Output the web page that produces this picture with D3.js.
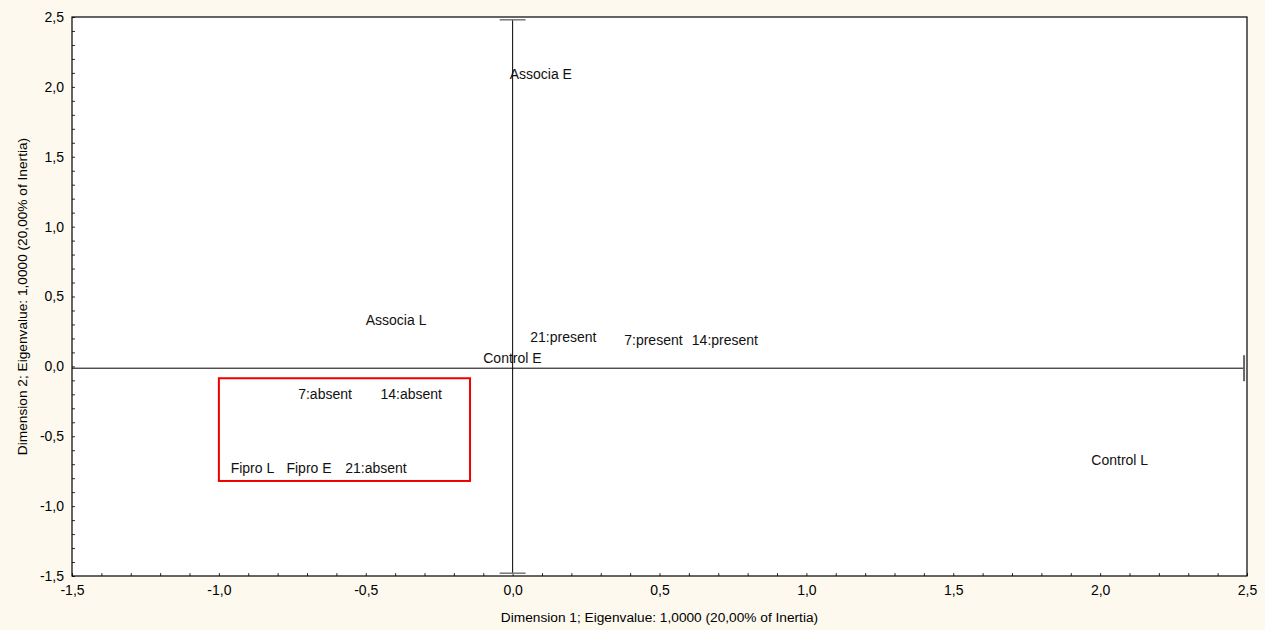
<!DOCTYPE html>
<html>
<head>
<meta charset="utf-8">
<script src="https://cdn.jsdelivr.net/npm/d3@7"></script>
<style>
  body { margin: 0; background: #fdf9ee; }
  svg { display: block; font-family: "Liberation Sans", Arial, sans-serif; }
</style>
</head>
<body>
<svg id="chart" width="1265" height="630"></svg>
<script>
// point labels and their coordinates (Dimension 1, Dimension 2)
const labels = ["Associa E", "Associa L", "Control E", "21:present", "7:present", "14:present",
                "7:absent", "14:absent", "Fipro L", "Fipro E", "21:absent", "Control L"];
const dim1 = [-0.01, -0.50, -0.10, 0.06, 0.38, 0.61, -0.73, -0.45, -0.96, -0.77, -0.57, 1.97];
const dim2 = [2.09, 0.33, 0.06, 0.21, 0.19, 0.19, -0.20, -0.20, -0.73, -0.73, -0.73, -0.67];

const xTicks = [-1.5, -1.0, -0.5, 0.0, 0.5, 1.0, 1.5, 2.0, 2.5];
const yTicks = [-1.5, -1.0, -0.5, 0.0, 0.5, 1.0, 1.5, 2.0, 2.5];

// the cross: horizontal line at crossLevel, vertical at x = 0, with end caps
const crossLevel = -0.013;
const crossX = [-1.5, 2.49];
const crossY = [-1.48, 2.48];
// highlight box
const boxX = [-1.0, -0.145];
const boxY = [-0.085, -0.82];

const svg = d3.select("#chart");
const plot = { left: 72, right: 1247, top: 17, bottom: 576 };

const x = d3.scaleLinear().domain([-1.5, 2.5]).range([plot.left, plot.right]);
const y = d3.scaleLinear().domain([-1.5, 2.5]).range([plot.bottom, plot.top]);
// comma decimals with a plain hyphen minus, as in the original
const fmt = v => (v < 0 ? "-" : "") + Math.abs(v).toFixed(1).replace(".", ",");

svg.append("rect")
  .attr("x", plot.left).attr("y", plot.top)
  .attr("width", plot.right - plot.left).attr("height", plot.bottom - plot.top)
  .attr("fill", "#fff");

// minor ticks every 0.1, pointing inwards
const minorX = d3.range(-15, 26).map(d => d / 10);
const minorY = d3.range(-15, 26).map(d => d / 10);
svg.append("g").attr("transform", `translate(0,${plot.bottom})`)
  .call(d3.axisTop(x).tickValues(minorX).tickSize(3).tickFormat(""))
  .call(g => g.select(".domain").remove())
  .call(g => g.selectAll("line").attr("stroke", "#333"));
svg.append("g").attr("transform", `translate(${plot.left},0)`)
  .call(d3.axisRight(y).tickValues(minorY).tickSize(3).tickFormat(""))
  .call(g => g.select(".domain").remove())
  .call(g => g.selectAll("line").attr("stroke", "#333"));

// tick labels
svg.append("g").attr("transform", `translate(0,${plot.bottom})`)
  .call(d3.axisBottom(x).tickValues(xTicks).tickSize(0).tickPadding(9).tickFormat(fmt))
  .call(g => g.select(".domain").remove())
  .call(g => g.selectAll("text").attr("font-size", 14).attr("fill", "#000")
    .attr("font-family", "Liberation Sans, Arial, sans-serif"));
svg.append("g").attr("transform", `translate(${plot.left},0)`)
  .call(d3.axisLeft(y).tickValues(yTicks).tickSize(0).tickPadding(8).tickFormat(fmt))
  .call(g => g.select(".domain").remove())
  .call(g => g.selectAll("text").attr("font-size", 14).attr("fill", "#000")
    .attr("font-family", "Liberation Sans, Arial, sans-serif"));

// cross through origin with end caps
const cross = svg.append("g");
cross.append("line")
  .attr("x1", x(crossX[0])).attr("x2", x(crossX[1]))
  .attr("y1", y(crossLevel)).attr("y2", y(crossLevel))
  .attr("stroke", "#000").attr("stroke-width", 1);
cross.append("line")
  .attr("x1", x(crossX[1])).attr("x2", x(crossX[1]))
  .attr("y1", y(crossLevel) - 13).attr("y2", y(crossLevel) + 13)
  .attr("stroke", "#666").attr("stroke-width", 2);
cross.append("line")
  .attr("x1", x(0)).attr("x2", x(0))
  .attr("y1", y(crossY[1])).attr("y2", y(crossY[0]))
  .attr("stroke", "#000").attr("stroke-width", 1);
crossY.forEach(v => {
  cross.append("line")
    .attr("x1", x(0) - 13).attr("x2", x(0) + 13)
    .attr("y1", y(v)).attr("y2", y(v))
    .attr("stroke", "#777").attr("stroke-width", 1.5);
});

// frame
svg.append("rect")
  .attr("x", plot.left).attr("y", plot.top)
  .attr("width", plot.right - plot.left).attr("height", plot.bottom - plot.top)
  .attr("fill", "none").attr("stroke", "#000").attr("stroke-width", 1.2);

// highlight box
svg.append("rect")
  .attr("x", x(boxX[0])).attr("y", y(boxY[0]))
  .attr("width", x(boxX[1]) - x(boxX[0]))
  .attr("height", y(boxY[1]) - y(boxY[0]))
  .attr("fill", "none").attr("stroke", "#ee0000").attr("stroke-width", 2);

// point labels
svg.append("g").selectAll("text")
  .data(labels)
  .join("text")
  .attr("x", (d, i) => x(dim1[i]))
  .attr("y", (d, i) => y(dim2[i]))
  .attr("dy", "0.35em")
  .attr("font-size", 14)
  .attr("fill", "#111")
  .text(d => d);

// axis titles
svg.append("text")
  .attr("x", (plot.left + plot.right) / 2).attr("y", 622)
  .attr("text-anchor", "middle").attr("font-size", 13.7)
  .text("Dimension 1; Eigenvalue: 1,0000 (20,00% of Inertia)");
svg.append("text")
  .attr("transform", `translate(27,${(plot.top + plot.bottom) / 2}) rotate(-90)`)
  .attr("text-anchor", "middle").attr("font-size", 13.7)
  .text("Dimension 2; Eigenvalue: 1,0000 (20,00% of Inertia)");
</script>
</body>
</html>
